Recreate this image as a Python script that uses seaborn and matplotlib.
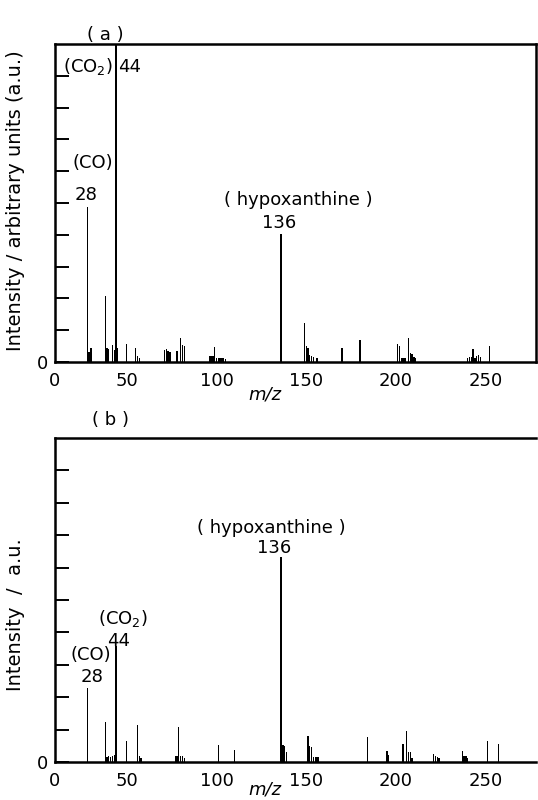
import numpy as np
import pandas as pd
import matplotlib
matplotlib.use("Agg")
import matplotlib.pyplot as plt
import seaborn as sns

# panel (a): m/z and intensity (a.u.)
mz_a = [28, 29, 30, 38, 39, 40, 42, 43, 44, 45, 50, 55, 56, 57,
        71, 72, 73, 74, 78, 80, 81, 82,
        96, 97, 98, 99, 100, 101, 102, 103, 104, 105,
        136, 149, 150, 151, 152, 153, 154, 156, 170, 180,
        201, 202, 203, 204, 205, 207, 208, 209, 210, 211,
        240, 241, 242, 243, 244, 245, 246, 247, 252]
int_a = [4.88, 0.30, 0.43, 2.09, 0.43, 0.40, 0.53, 0.38, 10.5, 0.45, 0.56, 0.43, 0.18, 0.12,
         0.38, 0.40, 0.36, 0.30, 0.35, 0.74, 0.52, 0.50,
         0.20, 0.20, 0.18, 0.48, 0.14, 0.12, 0.14, 0.13, 0.13, 0.10,
         4.03, 1.22, 0.50, 0.45, 0.22, 0.20, 0.15, 0.14, 0.45, 0.68,
         0.58, 0.50, 0.13, 0.13, 0.12, 0.75, 0.28, 0.25, 0.16, 0.12,
         0.14, 0.17, 0.16, 0.40, 0.12, 0.20, 0.22, 0.15, 0.50]

# panel (b)
mz_b = [28, 38, 39, 40, 41, 42, 43, 44, 50, 56, 57, 58,
        77, 78, 79, 80, 81, 82, 101, 110,
        136, 137, 138, 139, 151, 152, 153, 154, 155, 156, 157,
        184, 195, 196, 204, 206, 207, 208, 209,
        221, 222, 223, 224, 237, 238, 239, 240, 251, 257]
int_b = [2.27, 1.23, 0.16, 0.18, 0.16, 0.20, 0.22, 3.57, 0.64, 1.15, 0.20, 0.12,
         0.18, 0.20, 1.07, 0.20, 0.18, 0.12, 0.53, 0.38,
         6.34, 0.52, 0.50, 0.30, 0.79, 0.50, 0.47, 0.16, 0.16, 0.15, 0.14,
         0.77, 0.33, 0.22, 0.57, 0.95, 0.32, 0.30, 0.12,
         0.26, 0.18, 0.14, 0.12, 0.33, 0.20, 0.19, 0.12, 0.65, 0.56]

x_ticks = [10, 50, 100, 150, 200, 250]
x_tick_labels = ["0", "50", "100", "150", "200", "250"]

sns.set_style("white", rc={"text.color": "black", "axes.labelcolor": "black",
                           "xtick.color": "black", "ytick.color": "black",
                           "axes.edgecolor": "black"})
plt.rcParams["font.family"] = ["DejaVu Sans"]
plt.rcParams["mathtext.default"] = "regular"

FS = 13


def spectrum(ax, mz, inten, ylabel, label_y, xlabel_y):
    df = pd.DataFrame({"mz": mz, "intensity": inten})
    sns.histplot(data=df, x="mz", weights="intensity", discrete=True,
                 shrink=0.75, color="black", alpha=1, linewidth=0, ax=ax)
    ax.set_xlim(10, 278)
    ax.set_ylim(0, 10)
    ax.set_xticks(x_ticks)
    ax.set_xticklabels(x_tick_labels, fontsize=FS)
    ax.set_yticks(np.arange(0, 10))
    ax.set_yticklabels(["0"] + [""] * 9, fontsize=FS)
    ax.tick_params(axis="x", length=0, pad=7)
    ax.tick_params(axis="y", direction="in", length=10, width=1.4, pad=5, left=True)
    for s in ax.spines.values():
        s.set_linewidth(1.8)
        s.set_color("black")
    ax.set_xlabel("m/z", fontsize=FS, fontstyle="italic")
    ax.xaxis.set_label_coords(0.437, xlabel_y)
    ax.set_ylabel(ylabel, fontsize=FS + 1)
    ax.yaxis.set_label_coords(-0.062, label_y)


fig = plt.figure(figsize=(5.38, 8.0), dpi=100)
ax_a = fig.add_axes([0.1022, 0.5475, 0.894, 0.3975])
ax_b = fig.add_axes([0.1022, 0.0475, 0.894, 0.405])

spectrum(ax_a, mz_a, int_a, "Intensity / arbitrary units (a.u.)", 0.506, -0.075)
spectrum(ax_b, mz_b, int_b, "Intensity  /  a.u.", 0.454, -0.057)
ax_b.spines["right"].set_visible(False)

# annotations panel (a)
kw = dict(ha="center", va="center", fontsize=FS)
ax_a.text(28.4, 9.28, "(CO$_2$)", **kw)
ax_a.text(51.8, 9.28, "44", **kw)
ax_a.text(30.9, 6.25, "(CO)", **kw)
ax_a.text(27.3, 5.24, "28", **kw)
ax_a.text(145.4, 5.08, "( hypoxanthine )", **kw)
ax_a.text(134.8, 4.38, "136", **kw)

# annotations panel (b)
ax_b.text(130.7, 7.21, "( hypoxanthine )", **kw)
ax_b.text(132, 6.60, "136", **kw)
ax_b.text(47.8, 4.44, "(CO$_2$)", **kw)
ax_b.text(45.7, 3.74, "44", **kw)
ax_b.text(30.2, 3.30, "(CO)", **kw)
ax_b.text(30.4, 2.61, "28", **kw)

fig.text(0.195, 0.956, "( a )", ha="center", va="center", fontsize=FS)
fig.text(0.2045, 0.475, "( b )", ha="center", va="center", fontsize=FS)

fig.savefig("out.png", dpi=100)
plt.close(fig)
